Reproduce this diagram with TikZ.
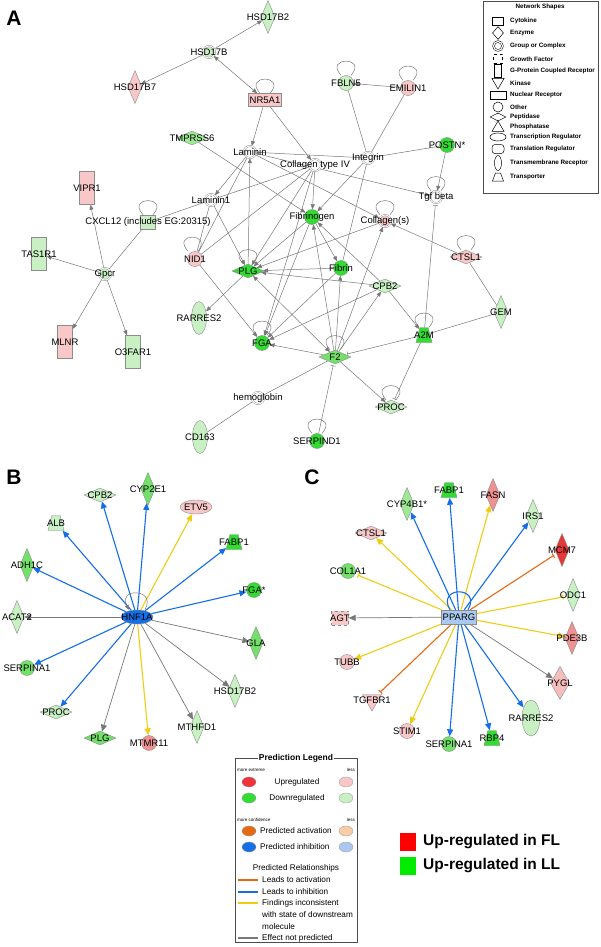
\documentclass[tikz,border=0pt]{standalone}
\usepackage{fontspec}
\setmainfont{Liberation Sans}
\usetikzlibrary{shapes.geometric, arrows.meta, backgrounds}

\definecolor{lgreen}{RGB}{200,240,195}
\definecolor{mlgreen}{RGB}{160,232,150}
\definecolor{mgreen}{RGB}{115,225,105}
\definecolor{dgreen}{RGB}{50,220,50}
\definecolor{lpink}{RGB}{248,200,200}
\definecolor{mpink}{RGB}{238,145,145}
\definecolor{dred}{RGB}{230,55,55}
\definecolor{nodeline}{RGB}{140,140,140}
\definecolor{edgegray}{RGB}{120,120,120}
\definecolor{predblue}{RGB}{20,110,230}
\definecolor{predyellow}{RGB}{240,205,20}
\definecolor{predorange}{RGB}{230,105,20}
\definecolor{lblue}{RGB}{170,200,240}
\definecolor{peach}{RGB}{250,205,165}
\definecolor{upred}{RGB}{240,50,60}
\definecolor{keyred}{RGB}{255,0,0}
\definecolor{keygreen}{RGB}{0,235,0}

\newcommand{\genefont}{\fontsize{9.5}{10}\selectfont}

\tikzset{
  every node/.style={font=\genefont},
  every label/.style={inner sep=0pt, font=\genefont, text=black},
  gene/.style={draw=nodeline, line width=0.4pt, inner sep=0pt},
  enzyme/.style={gene, diamond, minimum width=14pt, minimum height=33pt},
  peptidase/.style={gene, diamond, minimum width=32pt, minimum height=14pt},
  group/.style={gene, circle, double, double distance=0.9pt, minimum size=12pt},
  other/.style={gene, circle, minimum size=15pt},
  gpcrbox/.style={gene, rectangle, minimum width=15pt, minimum height=33pt},
  nuclear/.style={gene, rectangle, minimum width=33pt, minimum height=13pt},
  cytokine/.style={gene, rectangle, minimum width=15pt, minimum height=14pt},
  tmreceptor/.style={gene, ellipse, minimum width=15pt, minimum height=33pt},
  transreg/.style={gene, ellipse, minimum width=32pt, minimum height=14pt},
  transporter/.style={gene, trapezium, inner sep=0.5pt, trapezium stretches=true, trapezium angle=65, minimum width=16pt, minimum height=15pt},
  kinase/.style={gene, regular polygon, regular polygon sides=3, shape border rotate=180, minimum size=22pt},
  growth/.style={gene, rectangle, dashed, minimum width=17pt, minimum height=14pt},
  panel/.style={inner sep=0pt, font=\fontsize{21}{21}\bfseries\selectfont},
  % connectors
  arr/.style={draw=edgegray, line width=0.5pt, -{Triangle[length=5pt,width=4pt]}},
  biarr/.style={draw=edgegray, line width=0.5pt, {Triangle[length=5pt,width=4pt]}-{Triangle[length=5pt,width=4pt]}},
  ln/.style={draw=edgegray, line width=0.5pt},
  inh/.style={draw=edgegray, line width=0.5pt, -{Bar[width=5pt]}, shorten >=2pt},
  selfloop/.style={draw=edgegray, line width=0.5pt},
  bluearr/.style={draw=predblue, line width=1.1pt, -{Triangle[length=7pt,width=6pt]}},
  yellowarr/.style={draw=predyellow, line width=1.1pt, -{Triangle[length=7pt,width=6pt]}},
  yellowbar/.style={draw=predyellow, line width=1.1pt, -{Bar[width=5pt]}, shorten >=3pt},
  orangebar/.style={draw=predorange, line width=1.1pt, -{Bar[width=5pt]}, shorten >=3pt},
  grayarr/.style={draw=edgegray, line width=0.7pt, -{Triangle[length=7pt,width=6pt]}},
  % legends
  legendbox/.style={draw=black!70, line width=0.5pt},
  keyshape/.style={draw=black, line width=0.5pt, inner sep=0pt, fill=white},
  keytext/.style={anchor=west, inner sep=0pt, font=\fontsize{6.3}{7}\bfseries\selectfont},
  predhead/.style={inner sep=1pt, font=\fontsize{8.5}{9}\bfseries\selectfont},
  predtext/.style={inner sep=0pt, font=\fontsize{8.2}{9}\selectfont},
  tinytext/.style={inner sep=0pt, font=\fontsize{4.5}{5}\selectfont},
  keyoval/.style={ellipse, draw=black!40, line width=0.3pt, minimum width=14pt, minimum height=10pt, inner sep=0pt},
  bigkey/.style={anchor=west, inner sep=0pt, font=\fontsize{15.5}{16}\bfseries\selectfont},
}

\begin{document}
\begin{tikzpicture}[x=1pt, y=-1pt]
        \useasboundingbox (0,0) rectangle (600,947);

        % panel A: network of genes
        \node[panel] (labA) at (14,18) {A};
        \node[enzyme, fill=lgreen, label={center:HSD17B2}] (hsd17b2) at (268,17) {};
        \node[group, fill=lgreen, label={center:HSD17B}] (hsd17b) at (209,52) {};
        \node[enzyme, fill=lpink, label={center:HSD17B7}] (hsd17b7) at (135,87) {};
        \node[nuclear, fill=lpink, label={center:NR5A1}] (nr5a1) at (265,100) {};
        \node[peptidase, fill=mlgreen, label={center:TMPRSS6}] (tmprss6) at (192,138) {};
        \node[group, fill=white, label={center:Laminin}] (laminin) at (250,152) {};
        \node[group, fill=white, label={center:Collagen type IV}] (colIV) at (315,165) {};
        \node[group, fill=white, label={center:Integrin}] (integrin) at (368,158) {};
        \node[other, fill=lgreen, label={center:FBLN5}] (fbln5) at (346,83) {};
        \node[other, fill=lpink, label={center:EMILIN1}] (emilin1) at (408,88) {};
        \node[other, fill=dgreen, label={center:POSTN*}] (postn) at (447,145) {};
        \node[group, fill=white, label={center:Tgf beta}] (tgfb) at (436,197) {};
        \node[gpcrbox, fill=lpink, label={center:VIPR1}] (vipr1) at (87,188) {};
        \node[group, fill=white, label={center:Laminin1}] (laminin1) at (211,200) {};
        \node[cytokine, fill=lgreen, label={center:{CXCL12 (includes EG:20315)}}] (cxcl12) at (148,222) {};
        \node[other, fill=dgreen, label={center:Fibrinogen}] (fibrinogen) at (312,217) {};
        \node[group, fill=lpink, label={center:Collagen(s)}] (collagens) at (385,221) {};
        \node[gpcrbox, fill=lgreen, label={center:TAS1R1}] (tas1r1) at (39,254) {};
        \node[group, fill=lgreen, label={center:Gpcr}] (gpcr) at (105,274) {};
        \node[gpcrbox, fill=lpink, label={center:MLNR}] (mlnr) at (65,342) {};
        \node[gpcrbox, fill=lgreen, label={center:O3FAR1}] (o3far1) at (133,352) {};
        \node[other, fill=lpink, label={center:NID1}] (nid1) at (195,259) {};
        \node[peptidase, fill=dgreen, label={center:PLG}] (plg) at (248,271) {};
        \node[other, fill=dgreen, label={center:Fibrin}] (fibrin) at (341,268) {};
        \node[peptidase, fill=lgreen, label={center:CPB2}] (cpb2) at (385,286) {};
        \node[peptidase, fill=lpink, label={center:CTSL1}] (ctsl1) at (466,257) {};
        \node[tmreceptor, fill=lgreen, label={center:RARRES2}] (rarres2) at (199,318) {};
        \node[enzyme, fill=lgreen, label={center:GEM}] (gem) at (501,312) {};
        \node[transporter, fill=dgreen, label={center:A2M}] (a2m) at (424,335) {};
        \node[other, fill=dgreen, label={center:FGA}] (fga) at (262,343) {};
        \node[peptidase, fill=mgreen, label={center:F2}] (f2) at (335,357) {};
        \node[group, fill=white, label={center:hemoglobin}] (hemoglobin) at (258,398) {};
        \node[peptidase, fill=lgreen, label={center:PROC}] (proc) at (391,407) {};
        \node[tmreceptor, fill=lgreen, label={center:CD163}] (cd163) at (200,437) {};
        \node[other, fill=dgreen, label={center:SERPIND1}] (serpind1) at (317,441) {};

        \begin{pgfonlayer}{background}
        \fill[white] (0,0) rectangle (600,947);
        % connections in panel A
        \draw[arr] (hsd17b) -- (hsd17b2);
        \draw[arr] (hsd17b) -- (hsd17b7);
        \draw[biarr] (hsd17b) -- (nr5a1);
        \draw[arr] (nr5a1) -- (laminin);
        \draw[arr] (nr5a1) -- (colIV);
        \draw[arr] (tmprss6) -- (fibrinogen);
        \draw[ln] (laminin) -- (integrin);
        \draw[arr] (laminin) -- (tgfb);
        \draw[arr] (laminin) -- (collagens);
        \draw[arr] (laminin) -- (laminin1);
        \draw[ln] (laminin) -- (nid1);
        \draw[arr] (plg) -- (laminin);
        \draw[ln] (laminin1) -- (cxcl12);
        \draw[ln] (colIV) -- (laminin1);
        \draw[arr] (laminin1) -- (plg);
        \draw[ln] (laminin1) -- (nid1);
        \draw[arr] (colIV) -- (fibrinogen);
        \draw[ln] (colIV) -- (nid1);
        \draw[arr] (colIV) -- (plg);
        \draw[arr] (colIV) -- (fga);
        \draw[ln] (integrin) -- (fbln5);
        \draw[ln] (integrin) -- (emilin1);
        \draw[ln] (integrin) -- (postn);
        \draw[arr] (integrin) -- (fibrinogen);
        \draw[ln] (integrin) -- (fibrin);
        \draw[arr] (emilin1) -- (fbln5);
        \draw[arr] (postn) -- (tgfb);
        \draw[inh] (a2m) -- (tgfb);
        \draw[arr] (ctsl1) -- (collagens);
        \draw[ln] (ctsl1) -- (gem);
        \draw[ln] (gem) -- (a2m);
        \draw[inh] (a2m) -- (f2);
        \draw[arr] (cpb2) -- (a2m);
        \draw[inh] (a2m) -- (proc);
        \draw[arr] (f2) -- (proc);
        \draw[arr] (f2) -- (cpb2);
        \draw[arr] (f2) -- (collagens);
        \draw[arr] (f2) -- (fibrin);
        \draw[arr] (f2) -- (fibrinogen);
        \draw[arr] (f2) -- (fga);
        \draw[biarr] (plg) -- (f2);
        \draw[inh] (serpind1) -- (f2);
        \draw[ln] (hemoglobin) -- (f2);
        \draw[ln] (hemoglobin) -- (cd163);
        \draw[arr] (fibrin) -- (plg);
        \draw[arr] (cpb2) -- (plg);
        \draw[arr] (cpb2) -- (fga);
        \draw[arr] (cpb2) -- (fibrinogen);
        \draw[arr] (fibrinogen) -- (fibrin);
        \draw[arr] (fibrinogen) -- (fga);
        \draw[arr] (fibrinogen) -- (plg);
        \draw[arr] (collagens) -- (plg);
        \draw[arr] (fibrin) -- (fga);
        \draw[arr] (plg) -- (rarres2);
        \draw[arr] (nid1) -- (fga);
        \draw[arr] (gpcr) -- (vipr1);
        \draw[arr] (gpcr) -- (tas1r1);
        \draw[arr] (gpcr) -- (mlnr);
        \draw[arr] (gpcr) -- (o3far1);
        \draw[ln] (gpcr) -- (cxcl12);

        % self loops in panel A
        \draw[selfloop] ([xshift=-5pt]nr5a1.north) .. controls +(-17,-19) and +(17,-19) .. ([xshift=5pt]nr5a1.north);
        \draw[selfloop] ([xshift=-5pt]fbln5.north) .. controls +(-17,-19) and +(17,-19) .. ([xshift=5pt]fbln5.north);
        \draw[selfloop] ([xshift=-5pt]emilin1.north) .. controls +(-17,-19) and +(17,-19) .. ([xshift=5pt]emilin1.north);
        \draw[selfloop] ([xshift=-5pt]tgfb.north) .. controls +(-17,-19) and +(17,-19) .. ([xshift=5pt]tgfb.north);
        \draw[selfloop] ([xshift=-5pt]collagens.north) .. controls +(-17,-19) and +(17,-19) .. ([xshift=5pt]collagens.north);
        \draw[selfloop] ([xshift=-5pt]ctsl1.north) .. controls +(-17,-19) and +(17,-19) .. ([xshift=5pt]ctsl1.north);
        \draw[selfloop] ([xshift=-5pt]cxcl12.north) .. controls +(-17,-19) and +(17,-19) .. ([xshift=5pt]cxcl12.north);
        \draw[selfloop] ([xshift=-7pt]nid1.north) .. controls +(-17,-19) and +(15,-19) .. ([xshift=3pt]nid1.north);
        \draw[selfloop] ([xshift=-5pt]plg.north) .. controls +(-17,-19) and +(17,-19) .. ([xshift=5pt]plg.north);
        \draw[selfloop] ([xshift=-5pt]fga.north) .. controls +(-17,-19) and +(17,-19) .. ([xshift=5pt]fga.north);
        \draw[selfloop] ([xshift=-5pt]f2.north) .. controls +(-17,-19) and +(17,-19) .. ([xshift=5pt]f2.north);
        \draw[selfloop] ([xshift=-5pt]a2m.north) .. controls +(-17,-19) and +(17,-19) .. ([xshift=5pt]a2m.north);
        \draw[selfloop] ([xshift=-5pt]proc.north) .. controls +(-17,-19) and +(17,-19) .. ([xshift=5pt]proc.north);
        \draw[selfloop] ([xshift=-5pt]serpind1.north) .. controls +(-17,-19) and +(17,-19) .. ([xshift=5pt]serpind1.north);
        \end{pgfonlayer}

        % network shapes key
        \draw[legendbox] (483,1) rectangle (598,193);
        \node[inner sep=0pt, font=\fontsize{6.3}{7}\bfseries\selectfont] (shapehead) at (540,7) {Network Shapes};
        \node[keyshape, rectangle, minimum width=11pt, minimum height=8pt] (keycyt) at (498,21) {};
        \node[keytext] at (510,21) {Cytokine};
        \node[keyshape, diamond, minimum width=11pt, minimum height=13pt] (keyenz) at (498,33) {};
        \node[keytext] at (510,33) {Enzyme};
        \node[keyshape, circle, double, double distance=1.2pt, minimum size=9pt] (keygrp) at (498,46) {};
        \node[keytext] at (510,46) {Group or Complex};
        \node[keyshape, rectangle, dashed, minimum size=9pt] (keygf) at (498,59) {};
        \node[keytext] at (510,59) {Growth Factor};
        \node[keyshape, rectangle, minimum width=7pt, minimum height=13pt] (keygpcr) at (498,71) {};
        \node[keytext] at (510,71) {G-Protein Coupled Receptor};
        \node[keyshape, regular polygon, regular polygon sides=3, shape border rotate=180, minimum size=14pt] (keykin) at (498,82) {};
        \node[keytext] at (510,83) {Kinase};
        \node[keyshape, rectangle, minimum width=16pt, minimum height=8pt] (keynr) at (498,95) {};
        \node[keytext] at (510,95) {Nuclear Receptor};
        \node[keyshape, circle, minimum size=10pt] (keyoth) at (498,107) {};
        \node[keytext] at (510,107) {Other};
        \node[keyshape, diamond, minimum width=16pt, minimum height=8pt] (keypep) at (498,117) {};
        \node[keytext] at (510,117) {Peptidase};
        \node[keyshape, regular polygon, regular polygon sides=3, minimum size=14pt] (keyphos) at (498,128) {};
        \node[keytext] at (510,127) {Phosphatase};
        \node[keyshape, ellipse, minimum width=16pt, minimum height=8pt] (keytr) at (498,137) {};
        \node[keytext] at (510,137) {Transcription Regulator};
        \node[keyshape, rectangle, rounded corners=3pt, minimum width=12pt, minimum height=9pt] (keytl) at (498,149) {};
        \node[keytext] at (510,149) {Translation Regulator};
        \node[keyshape, ellipse, minimum width=7pt, minimum height=15pt] (keytm) at (498,163) {};
        \node[keytext] at (510,163) {Transmembrane Receptor};
        \node[keyshape, trapezium, inner sep=0.5pt, trapezium stretches=true, minimum width=11pt, minimum height=8pt] (keytp) at (498,177) {};
        \node[keytext] at (510,177) {Transporter};

        % panel B: HNF1A and its targets
        \node[panel] (labB) at (14,477) {B};
        \node[transreg, fill=predblue, label={center:HNF1A}] (hnf1a) at (137,617) {};
        \node[peptidase, fill=lgreen, label={center:CPB2}] (cpb2b) at (100,495) {};
        \node[enzyme, fill=mgreen, label={center:CYP2E1}] (cyp2e1) at (148,489) {};
        \node[transreg, fill=lpink, label={center:ETV5}] (etv5) at (196,507) {};
        \node[transporter, fill=lgreen, label={center:ALB}] (alb) at (56,523) {};
        \node[transporter, fill=dgreen, label={center:FABP1}] (fabp1b) at (234,542) {};
        \node[enzyme, fill=mgreen, label={center:ADH1C}] (adh1c) at (27,565) {};
        \node[other, fill=dgreen, label={center:FGA*}] (fgab) at (254,590) {};
        \node[enzyme, fill=lgreen, label={center:ACAT2}] (acat2) at (17,617) {};
        \node[enzyme, fill=mgreen, label={center:GLA}] (gla) at (256,643) {};
        \node[other, fill=mgreen, label={center:SERPINA1}] (serpina1b) at (27,668) {};
        \node[enzyme, fill=lgreen, label={center:HSD17B2}] (hsd17b2b) at (235,691) {};
        \node[peptidase, fill=lgreen, label={center:PROC}] (procb) at (56,712) {};
        \node[peptidase, fill=mgreen, label={center:PLG}] (plgb) at (100,738) {};
        \node[other, fill=mpink, label={center:MTMR11}] (mtmr11) at (149,743) {};
        \node[enzyme, fill=lgreen, label={center:MTHFD1}] (mthfd1) at (197,727) {};

        \begin{pgfonlayer}{background}
        % predicted relationships of HNF1A
        \draw[bluearr] (hnf1a) -- (cpb2b);
        \draw[bluearr] (hnf1a) -- (cyp2e1);
        \draw[bluearr] (hnf1a) -- (alb);
        \draw[bluearr] (hnf1a) -- (fabp1b);
        \draw[bluearr] (hnf1a) -- (adh1c);
        \draw[bluearr] (hnf1a) -- (fgab);
        \draw[bluearr] (hnf1a) -- (serpina1b);
        \draw[bluearr] (hnf1a) -- (procb);
        \draw[yellowarr] (hnf1a) -- (etv5);
        \draw[yellowarr] (hnf1a) -- (mtmr11);
        \draw[grayarr] (hnf1a) -- (acat2);
        \draw[grayarr] (hnf1a) -- (gla);
        \draw[grayarr] (hnf1a) -- (hsd17b2b);
        \draw[grayarr] (hnf1a) -- (mthfd1);
        \draw[grayarr] (hnf1a) -- (plgb);
        \draw[arr] ([xshift=8pt]hnf1a.north) .. controls +(12,-22) and +(-12,-22) .. ([xshift=-8pt]hnf1a.north);
        \end{pgfonlayer}

        % panel C: PPARG and its targets
        \node[panel] (labC) at (312,477) {C};
        \node[nuclear, fill=lblue, minimum width=35pt, minimum height=14pt, label={center:PPARG}] (pparg) at (459,617) {};
        \node[enzyme, fill=mlgreen, label={center:CYP4B1*}] (cyp4b1) at (407,504) {};
        \node[transporter, fill=dgreen, label={center:FABP1}] (fabp1c) at (449,490) {};
        \node[enzyme, fill=mpink, label={center:FASN}] (fasn) at (493,495) {};
        \node[enzyme, fill=lgreen, label={center:IRS1}] (irs1) at (533,516) {};
        \node[peptidase, fill=lpink, label={center:CTSL1}] (ctsl1c) at (371,533) {};
        \node[enzyme, fill=dred, label={center:MCM7}] (mcm7) at (562,550) {};
        \node[other, fill=mgreen, label={center:COL1A1}] (col1a1) at (348,571) {};
        \node[enzyme, fill=lgreen, label={center:ODC1}] (odc1) at (573,595) {};
        \node[growth, fill=lpink, label={center:AGT}] (agt) at (340,618) {};
        \node[enzyme, fill=mpink, label={center:PDE3B}] (pde3b) at (572,638) {};
        \node[other, fill=lpink, label={center:TUBB}] (tubb) at (347,662) {};
        \node[enzyme, fill=lpink!80!mpink, minimum width=19pt, label={center:PYGL}] (pygl) at (560,683) {};
        \node[kinase, fill=lpink, label={center:TGFBR1}] (tgfbr1) at (372,700) {};
        \node[tmreceptor, fill=lgreen, minimum width=18pt, minimum height=36pt, label={center:RARRES2}] (rarres2c) at (531,718) {};
        \node[other, fill=lpink, label={center:STIM1}] (stim1) at (407,731) {};
        \node[other, fill=mgreen, label={center:SERPINA1}] (serpina1c) at (449,744) {};
        \node[transporter, fill=dgreen, label={center:RBP4}] (rbp4) at (492,738) {};

        \begin{pgfonlayer}{background}
        % predicted relationships of PPARG
        \draw[bluearr] (pparg) -- (cyp4b1);
        \draw[bluearr] (pparg) -- (fabp1c);
        \draw[bluearr] (pparg) -- (irs1);
        \draw[bluearr] (pparg) -- (rarres2c);
        \draw[bluearr] (pparg) -- (serpina1c);
        \draw[bluearr] (pparg) -- (rbp4);
        \draw[yellowarr] (pparg) -- (ctsl1c);
        \draw[yellowarr] (pparg) -- (fasn);
        \draw[yellowarr] (pparg) -- (tubb);
        \draw[yellowarr] (pparg) -- (stim1);
        \draw[yellowarr] (pparg) -- (pde3b);
        \draw[yellowbar] (pparg) -- (col1a1);
        \draw[yellowbar] (pparg) -- (odc1);
        \draw[orangebar] (pparg) -- (mcm7);
        \draw[orangebar] (pparg) -- (tgfbr1);
        \draw[grayarr] (pparg) -- (agt);
        \draw[grayarr] (pparg) -- (pygl);
        \draw[draw=predblue, line width=1.1pt] ([xshift=-9pt]pparg.north) .. controls +(-14,-24) and +(14,-24) .. ([xshift=9pt]pparg.north);
        \end{pgfonlayer}

        % prediction legend
        \draw[legendbox] (235,758) rectangle (357,942);
        \node[predhead, fill=white] (predhead) at (296,758) {Prediction Legend};
        \node[tinytext, anchor=west] at (237,770) {more extreme};
        \node[tinytext, anchor=east] at (355,770) {less};
        \node[keyoval, fill=upred] (ovup) at (249,782) {};
        \node[predtext] at (297,782) {Upregulated};
        \node[keyoval, fill=lpink] (ovupl) at (346,782) {};
        \node[keyoval, fill=dgreen] (ovdown) at (249,798) {};
        \node[predtext] at (297,798) {Downregulated};
        \node[keyoval, fill=lgreen] (ovdownl) at (346,798) {};
        \node[tinytext, anchor=west] at (237,820) {more confidence};
        \node[tinytext, anchor=east] at (355,820) {less};
        \node[keyoval, fill=predorange] (ovact) at (249,831) {};
        \node[predtext, anchor=west] at (260,831) {Predicted activation};
        \node[keyoval, fill=peach] (ovactl) at (346,831) {};
        \node[keyoval, fill=predblue] (ovinh) at (249,847) {};
        \node[predtext, anchor=west] at (260,847) {Predicted inhibition};
        \node[keyoval, fill=lblue] (ovinhl) at (346,847) {};
        \node[predtext] at (296,868) {Predicted Relationships};
        \draw[predorange, line width=1.2pt] (238,880) -- (258,880);
        \node[predtext, anchor=west] at (262,880) {Leads to activation};
        \draw[predblue, line width=1.2pt] (238,892) -- (258,892);
        \node[predtext, anchor=west] at (262,892) {Leads to inhibition};
        \draw[predyellow, line width=1.2pt] (238,903) -- (258,903);
        \node[predtext, anchor=west] at (262,903) {Findings inconsistent};
        \node[predtext, anchor=west] at (262,915) {with state of downstream};
        \node[predtext, anchor=west] at (262,927) {molecule};
        \draw[edgegray, line width=1.2pt] (238,938) -- (258,938);
        \node[predtext, anchor=west] at (262,938) {Effect not predicted};

        % colour key
        \fill[keyred] (400,833) rectangle (416,851);
        \fill[keygreen] (400,857) rectangle (416,875);
        \node[bigkey] at (423,842) {Up-regulated in FL};
        \node[bigkey] at (423,866) {Up-regulated in LL};

\end{tikzpicture}
\end{document}
